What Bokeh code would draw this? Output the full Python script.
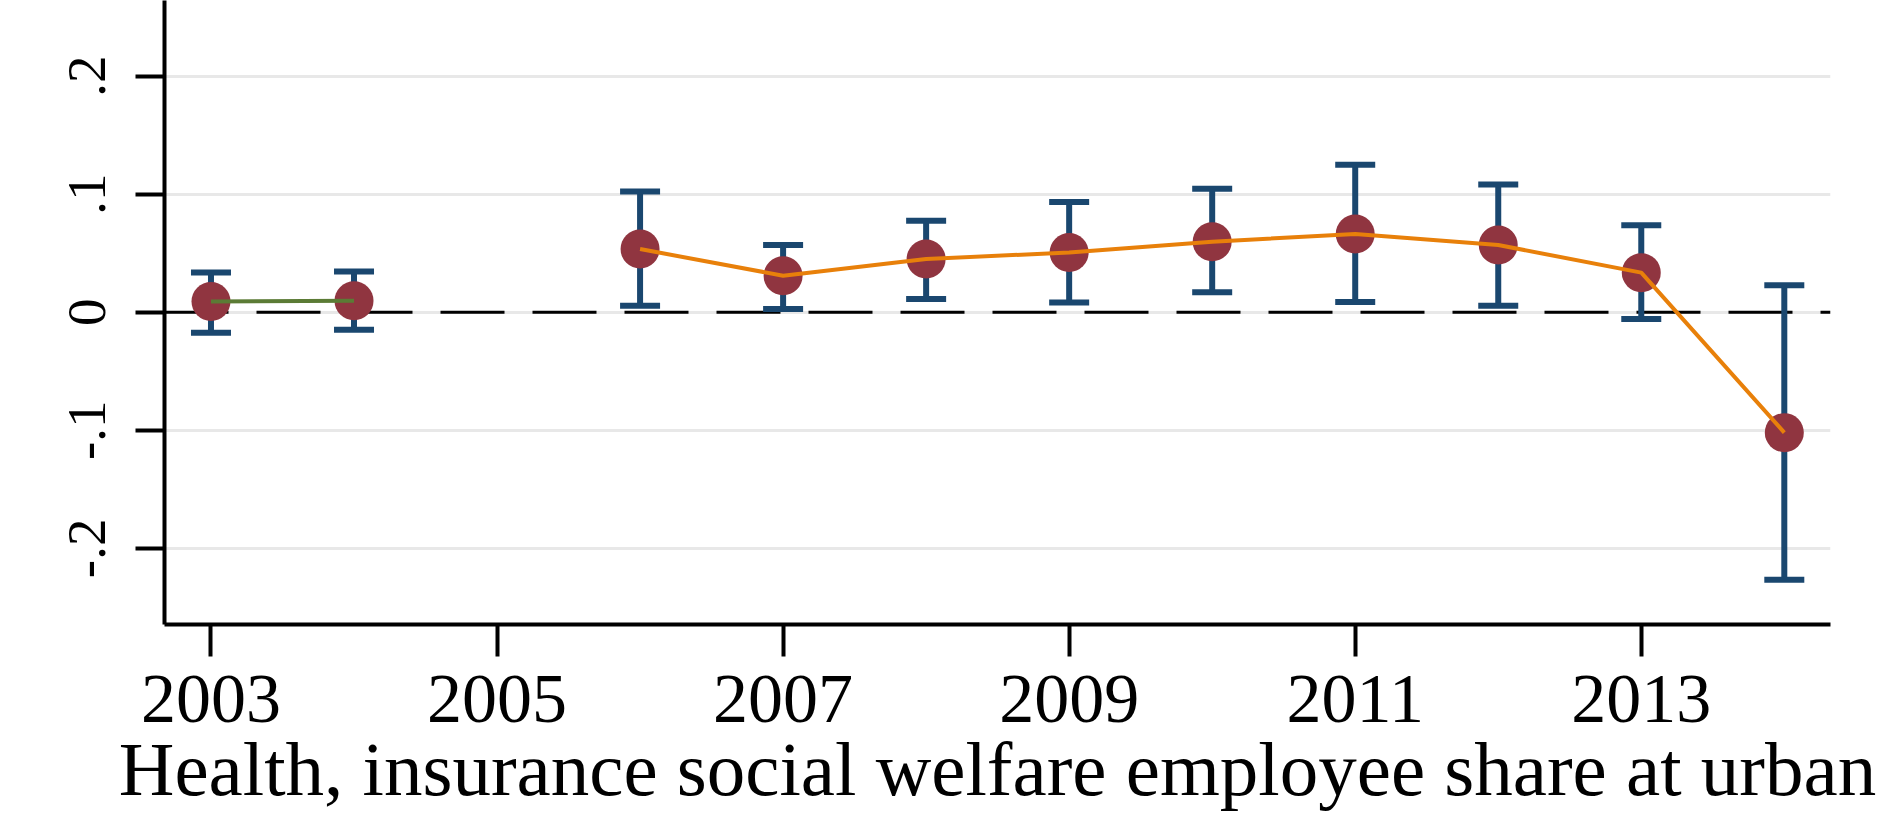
from bokeh.plotting import figure
from bokeh.models import (ColumnDataSource, Range1d, Whisker, TeeHead, Span,
                          FixedTicker, CustomJSTickFormatter)
from bokeh.embed import file_html
from bokeh.resources import INLINE

# ---- data ----
years_a = [2003, 2004]
coef_a = [0.0091, 0.0097]
upper_a = [0.0337, 0.0345]
lower_a = [-0.0174, -0.0148]

years_b = [2006, 2007, 2008, 2009, 2010, 2011, 2012, 2013, 2014]
coef_b = [0.0535, 0.0309, 0.0450, 0.0506, 0.0597, 0.0663, 0.0569, 0.0335, -0.1020]
upper_b = [0.1023, 0.0569, 0.0775, 0.0933, 0.1046, 0.1249, 0.1081, 0.0737, 0.0228]
lower_b = [0.0055, 0.0027, 0.0112, 0.0083, 0.0168, 0.0087, 0.0054, -0.0057, -0.2265]

x_ticks = [2003, 2005, 2007, 2009, 2011, 2013]
y_ticks = [-0.2, -0.1, 0, 0.1, 0.2]
y_tick_labels = ["-.2", "-.1", "0", ".1", ".2"]
x_label = "Health, insurance social welfare employee share at urban"

NAVY = "#1A476F"
MAROON = "#903540"
ORANGE = "#E8800A"
GREEN = "#5B7B35"
FONT = "Liberation Serif"

src_a = ColumnDataSource(dict(x=years_a, y=coef_a, up=upper_a, lo=lower_a))
src_b = ColumnDataSource(dict(x=years_b, y=coef_b, up=upper_b, lo=lower_b))

p = figure(width=1880, height=818, output_backend="svg", toolbar_location=None,
           x_range=Range1d(2002.675, 2014.323), y_range=Range1d(-0.2645, 0.264),
           min_border_left=164, min_border_right=50, min_border_top=0,
           min_border_bottom=194)
p.outline_line_color = None
p.background_fill_color = "white"
p.border_fill_color = "white"

# grid
p.xgrid.grid_line_color = None
p.ygrid.grid_line_color = "#E8E8E8"
p.ygrid.grid_line_width = 3
p.ygrid.ticker = FixedTicker(ticks=y_ticks)

# zero line
zero = Span(location=0, dimension="width", line_color="black", line_width=3,
            line_dash="64 28", level="underlay")
p.add_layout(zero)

# error bars
for src in (src_a, src_b):
    w = Whisker(source=src, base="x", upper="up", lower="lo",
                line_color=NAVY, line_width=6,
                upper_head=TeeHead(size=40, line_color=NAVY, line_width=6),
                lower_head=TeeHead(size=40, line_color=NAVY, line_width=6))
    p.add_layout(w)

# markers
p.scatter("x", "y", source=src_a, size=39, marker="circle", fill_color=MAROON,
          line_color=None)
p.scatter("x", "y", source=src_b, size=39, marker="circle", fill_color=MAROON,
          line_color=None)

# connecting lines
p.line("x", "y", source=src_a, line_color=GREEN, line_width=4)
p.line("x", "y", source=src_b, line_color=ORANGE, line_width=4)

# x axis
p.xaxis.ticker = FixedTicker(ticks=x_ticks)
p.xaxis.axis_line_width = 4
p.xaxis.axis_line_color = "black"
p.xaxis.major_tick_line_width = 4
p.xaxis.major_tick_out = 32
p.xaxis.major_tick_in = 0
p.xaxis.minor_tick_line_color = None
p.xaxis.major_label_text_font = FONT
p.xaxis.major_label_text_font_size = "70px"
p.xaxis.major_label_text_color = "black"
p.xaxis.major_label_standoff = 19
p.xaxis.axis_label = x_label
p.xaxis.axis_label_text_font = FONT
p.xaxis.axis_label_text_font_size = "77px"
p.xaxis.axis_label_text_font_style = "normal"
p.xaxis.axis_label_text_color = "black"
p.xaxis.axis_label_standoff = 1

# y axis
p.yaxis.ticker = FixedTicker(ticks=y_ticks)
p.yaxis.formatter = CustomJSTickFormatter(
    args=dict(tvals=y_ticks, tlabels=y_tick_labels),
    code="""
    for (let i = 0; i < tvals.length; i++) {
        if (Math.abs(tick - tvals[i]) < 1e-9) return tlabels[i];
    }
    return '';
    """)
p.yaxis.axis_line_width = 4
p.yaxis.axis_line_color = "black"
p.yaxis.major_tick_line_width = 4
p.yaxis.major_tick_out = 29
p.yaxis.major_tick_in = 0
p.yaxis.minor_tick_line_color = None
p.yaxis.major_label_text_font = FONT
p.yaxis.major_label_text_font_size = "55px"
p.yaxis.major_label_text_color = "black"
p.yaxis.major_label_orientation = "vertical"
p.yaxis.major_label_standoff = 30

open("out.html", "w").write(file_html(p, INLINE))
